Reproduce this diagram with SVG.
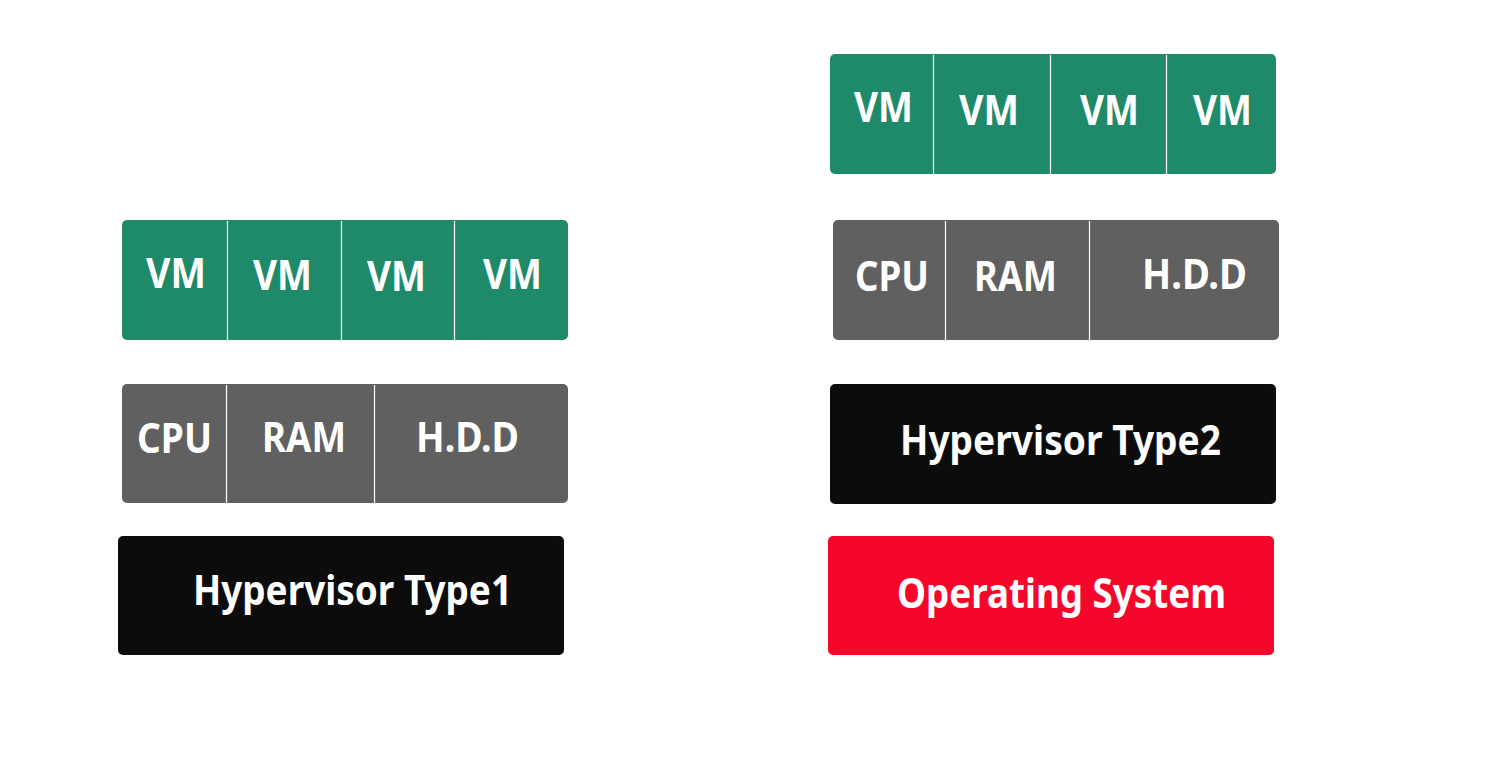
<svg xmlns="http://www.w3.org/2000/svg" width="1500" height="764" viewBox="0 0 1500 764">
<style>
.g{fill:#1F8A69}
.h{fill:#606060}
.k{fill:#0D0C0D}
.r{fill:#F5072B}
.d{stroke:#FFFFFF;stroke-width:1.2}
text{font-family:"Noto Sans","Open Sans","Liberation Sans",sans-serif;font-weight:700;fill:#FFFFFF;font-size:41px}
</style>
<rect width="1500" height="764" fill="#FFFFFF"/>
<g id="left-vms">
<rect class="g" x="122" y="220" width="446" height="120" rx="5"/>
<line class="d" x1="227.5" y1="221" x2="227.5" y2="340"/>
<line class="d" x1="341.5" y1="221" x2="341.5" y2="340"/>
<line class="d" x1="454.5" y1="221" x2="454.5" y2="340"/>
<text x="146" y="288" textLength="60" lengthAdjust="spacingAndGlyphs">VM</text>
<text x="253" y="290" textLength="59" lengthAdjust="spacingAndGlyphs">VM</text>
<text x="367" y="291" textLength="59" lengthAdjust="spacingAndGlyphs">VM</text>
<text x="483" y="289" textLength="59" lengthAdjust="spacingAndGlyphs">VM</text>
</g>
<g id="left-hw">
<rect class="h" x="122" y="384" width="446" height="119" rx="5"/>
<line class="d" x1="226.5" y1="385" x2="226.5" y2="503"/>
<line class="d" x1="374.5" y1="385" x2="374.5" y2="503"/>
<text x="137" y="453" textLength="75" lengthAdjust="spacingAndGlyphs">CPU</text>
<text x="262" y="452" textLength="84" lengthAdjust="spacingAndGlyphs">RAM</text>
<text x="416" y="452" textLength="103" lengthAdjust="spacingAndGlyphs">H.D.D</text>
</g>
<g id="hypervisor-type1">
<rect class="k" x="118" y="536" width="446" height="119" rx="5"/>
<text x="193" y="605" textLength="319" lengthAdjust="spacingAndGlyphs">Hypervisor Type1</text>
</g>
<g id="right-vms">
<rect class="g" x="830" y="54" width="446" height="120" rx="5"/>
<line class="d" x1="933.5" y1="55" x2="933.5" y2="174"/>
<line class="d" x1="1050.5" y1="55" x2="1050.5" y2="174"/>
<line class="d" x1="1166.5" y1="55" x2="1166.5" y2="174"/>
<text x="854" y="122" textLength="59" lengthAdjust="spacingAndGlyphs">VM</text>
<text x="959" y="125" textLength="60" lengthAdjust="spacingAndGlyphs">VM</text>
<text x="1080" y="125" textLength="59" lengthAdjust="spacingAndGlyphs">VM</text>
<text x="1193" y="125" textLength="59" lengthAdjust="spacingAndGlyphs">VM</text>
</g>
<g id="right-hw">
<rect class="h" x="833" y="220" width="446" height="120" rx="5"/>
<line class="d" x1="945.5" y1="221" x2="945.5" y2="340"/>
<line class="d" x1="1089.5" y1="221" x2="1089.5" y2="340"/>
<text x="855" y="291" textLength="74" lengthAdjust="spacingAndGlyphs">CPU</text>
<text x="974" y="291" textLength="83" lengthAdjust="spacingAndGlyphs">RAM</text>
<text x="1142" y="289" textLength="105" lengthAdjust="spacingAndGlyphs">H.D.D</text>
</g>
<g id="hypervisor-type2">
<rect class="k" x="830" y="384" width="446" height="120" rx="5"/>
<text x="900" y="455" textLength="321" lengthAdjust="spacingAndGlyphs">Hypervisor Type2</text>
</g>
<g id="operating-system">
<rect class="r" x="828" y="536" width="446" height="119" rx="5"/>
<text x="897" y="608" textLength="329" lengthAdjust="spacingAndGlyphs">Operating System</text>
</g>
<g id="connectors"/>
</svg>
